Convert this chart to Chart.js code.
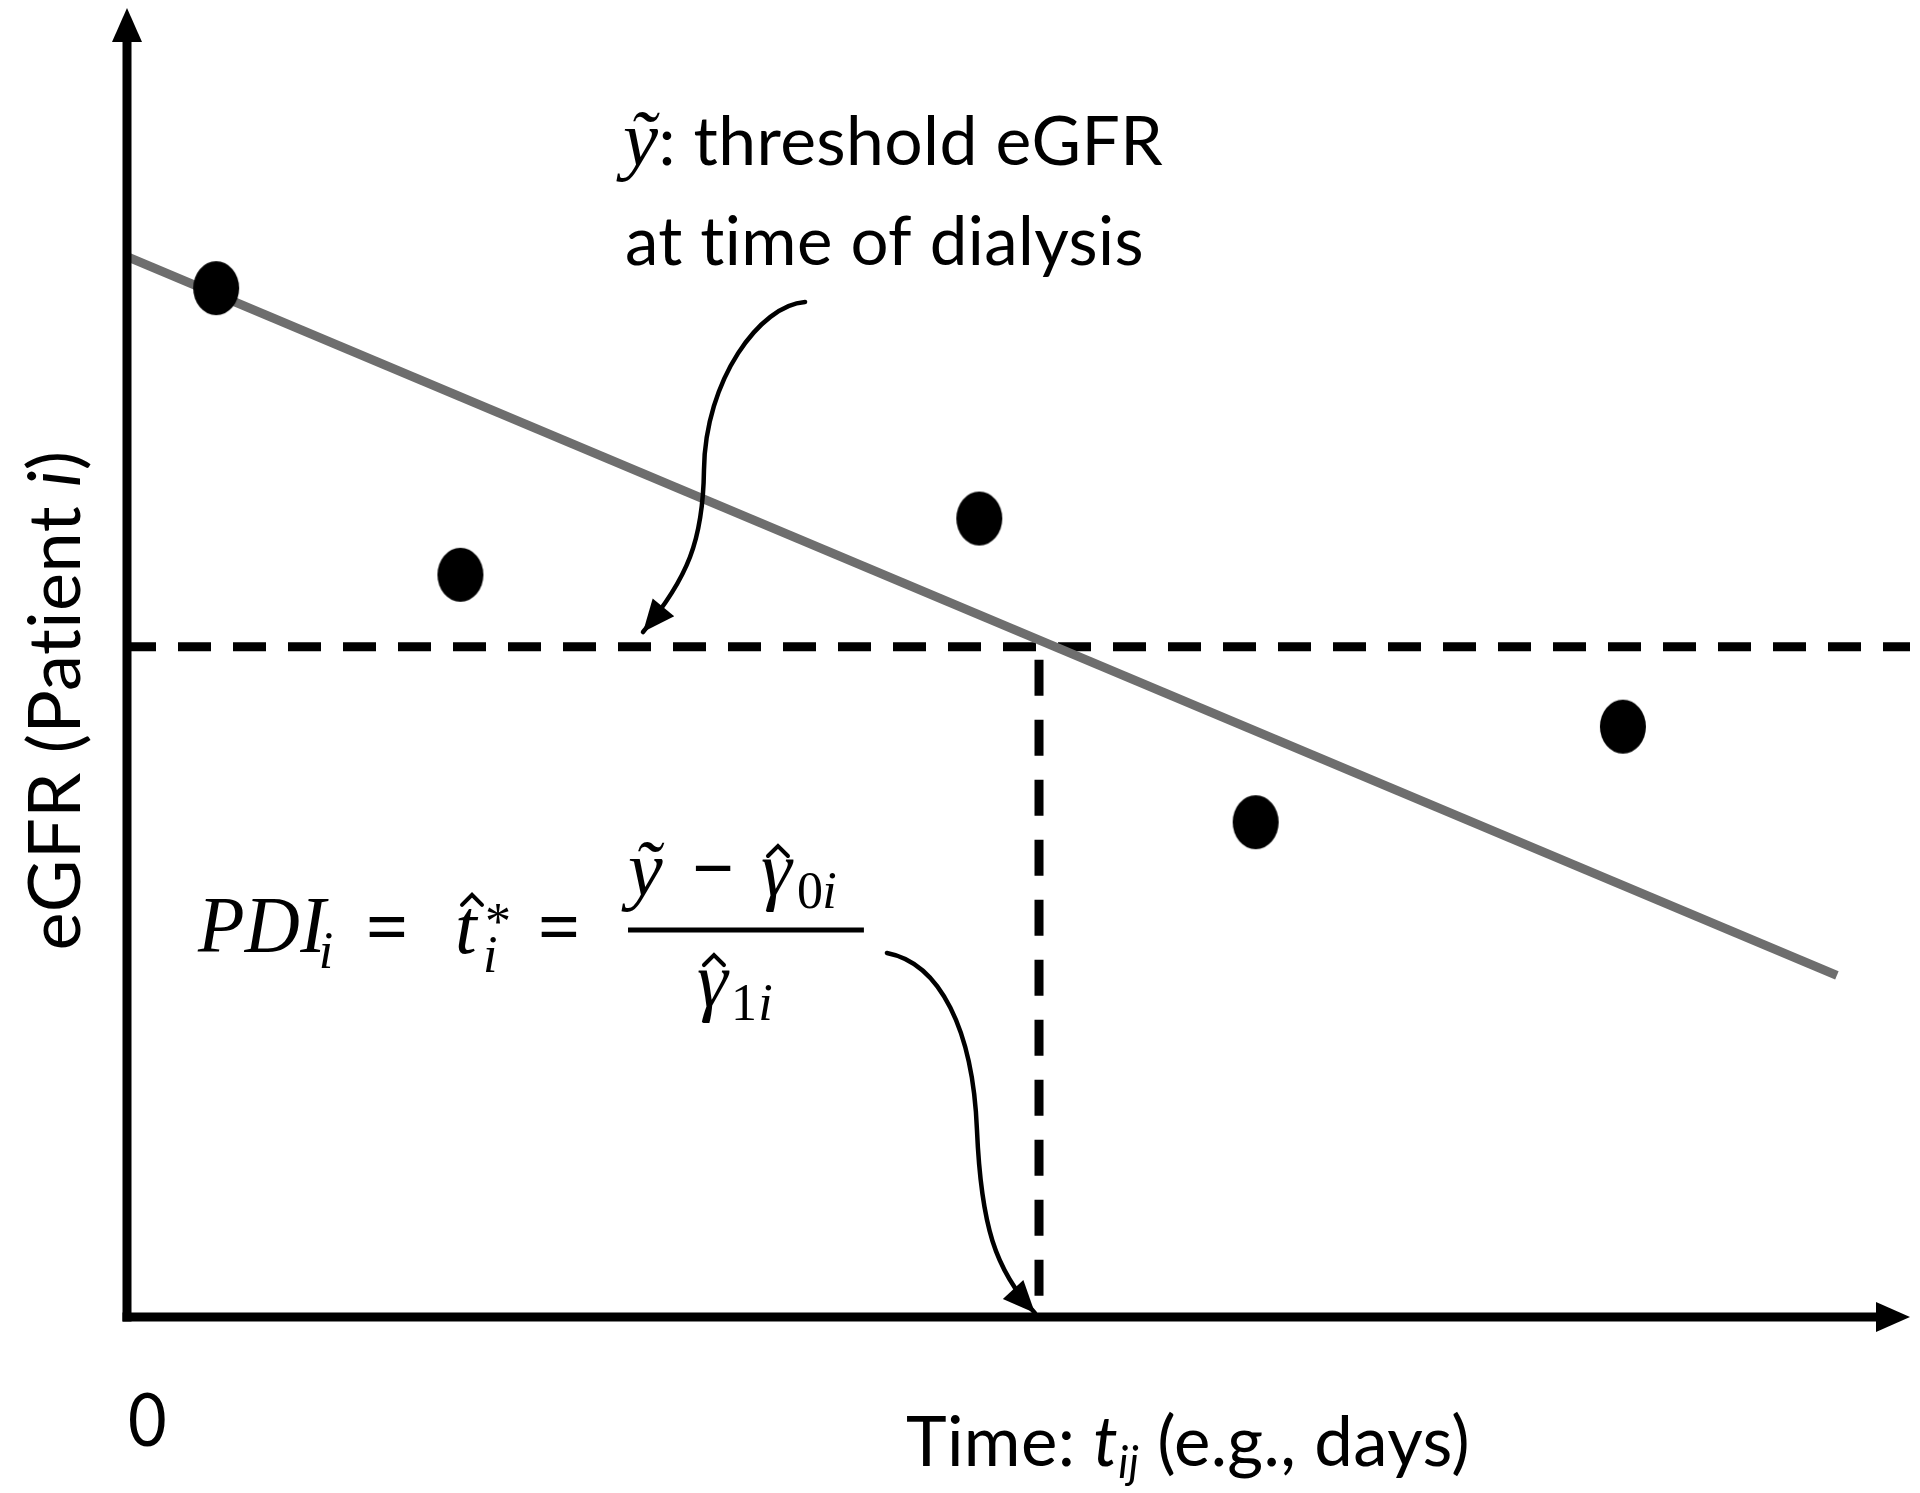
<!DOCTYPE html>
<html><head><meta charset="utf-8">
<script src="https://cdn.jsdelivr.net/npm/chart.js@4.4.1/dist/chart.umd.min.js"></script>
<style>html,body{margin:0;padding:0;background:#fff;}canvas{display:block;}</style>
</head><body>
<canvas id="c" width="1920" height="1493"></canvas>
<script>
// ---- data ----
const obsTime = [5.0, 18.7, 47.8, 63.3, 83.9];
const obsEGFR = [78.6, 56.7, 61.0, 37.8, 45.1];
const fitTime = [0, 95.9];
const fitEGFR = [81.0, 26.1];
const thresholdEGFR = 51.2;
const thresholdSpan = [0, 100];
const pdiTime = 51.15;
const xTickValues = [0];
const xTickLabels = ['0'];

// ---- datasets built from the arrays ----
const pts = obsTime.map((t, i) => ({x: t, y: obsEGFR[i]}));
const fit = fitTime.map((t, i) => ({x: t, y: fitEGFR[i]}));
const thr = thresholdSpan.map(t => ({x: t, y: thresholdEGFR}));
const pdi = [{x: pdiTime, y: thresholdEGFR}, {x: pdiTime, y: 0}];

// elliptical dot marker
const dot = document.createElement('canvas');
dot.width = 48; dot.height = 56;
(function(){ const d = dot.getContext('2d'); d.fillStyle = '#000'; d.beginPath(); d.ellipse(24, 28, 23, 27, 0, 0, Math.PI*2); d.fill(); })();

const SANS = '"Lato", "Open Sans", sans-serif';
const SERIF = '"Liberation Serif", "DejaVu Serif", serif';

// ---- annotation layout (data units) ----
const arrows = [
  {start: [38.03, 77.54], segs: [[[35.50, 77.31], [32.42, 71.58], [32.36, 64.71]], [[32.31, 59.36], [31.46, 56.46], [28.94, 52.33]]]},
  {start: [42.62, 27.81], segs: [[[45.60, 27.04], [47.45, 21.93], [47.67, 14.29]], [[47.90, 7.03], [48.68, 3.59], [50.92, 0.31]]]}
];

const formulaTokens = [
  {t: 'PDI', x: 3.98, y: 27.88, font: 'italic 80px ' + SERIF, w: 128},
  {t: 'i', x: 10.75, y: 26.66, font: 'italic 52px ' + SERIF},
  {t: '=', x: 13.40, y: 27.88, font: 'bold 74px ' + SERIF},
  {t: 't', x: 18.40, y: 27.81, font: 'italic 78px ' + SERIF, hat: [19.35, 31.86]},
  {t: '*', x: 20.08, y: 28.88, font: '52px ' + SERIF},
  {t: 'i', x: 19.97, y: 26.36, font: 'italic 52px ' + SERIF},
  {t: '=', x: 23.05, y: 27.88, font: 'bold 74px ' + SERIF},
  {t: 'ỹ', x: 28.10, y: 32.24, font: 'italic 78px ' + SERIF},
  {t: '−', x: 31.69, y: 32.40, font: 'bold 74px ' + SERIF},
  {t: 'γ', x: 35.56, y: 32.24, font: 'italic 78px ' + SERIF, hat: [36.51, 35.60]},
  {t: '0', x: 37.58, y: 31.24, font: '52px ' + SERIF},
  {t: 'i', x: 39.00, y: 31.24, font: 'italic 52px ' + SERIF},
  {t: 'γ', x: 31.97, y: 23.76, font: 'italic 78px ' + SERIF, hat: [32.92, 27.27]},
  {t: '1', x: 33.88, y: 22.69, font: '52px ' + SERIF},
  {t: 'i', x: 35.40, y: 22.69, font: 'italic 52px ' + SERIF}
];
const fractionBar = {x1: 28.10, x2: 41.33, y: 29.56};

function runsWidth(ctx, runs) {
  let w = 0;
  for (const r of runs) { ctx.font = r.font; w += ctx.measureText(r.t).width; }
  return w;
}
function drawRuns(ctx, runs, x, y, targetW) {
  const w = runsWidth(ctx, runs);
  const sx = targetW ? targetW / w : 1;
  ctx.save(); ctx.translate(x, y); ctx.scale(sx, 1);
  let cx = 0;
  for (const r of runs) { ctx.font = r.font; ctx.fillText(r.t, cx, r.dy || 0); cx += ctx.measureText(r.t).width; }
  ctx.restore();
}
function hat(ctx, cx, cy) {
  ctx.save(); ctx.lineWidth = 4; ctx.lineJoin = 'miter'; ctx.strokeStyle = '#000';
  ctx.beginPath(); ctx.moveTo(cx - 10, cy + 5); ctx.lineTo(cx, cy - 5); ctx.lineTo(cx + 10, cy + 5); ctx.stroke();
  ctx.restore();
}

const annot = {
  id: 'annot',
  afterDraw(chart) {
    const ctx = chart.ctx, xs = chart.scales.x, ys = chart.scales.y;
    const P = (x, y) => [xs.getPixelForValue(x), ys.getPixelForValue(y)];
    const x0 = xs.getPixelForValue(0), y0 = ys.getPixelForValue(0);
    const xEnd = xs.getPixelForValue(xs.max), yEnd = ys.getPixelForValue(ys.max);
    ctx.save();
    if ('letterSpacing' in ctx) ctx.letterSpacing = '0.4px';
    ctx.fillStyle = '#000'; ctx.strokeStyle = '#000';
    // axes with arrowheads
    ctx.lineWidth = 9; ctx.lineCap = 'butt';
    ctx.beginPath(); ctx.moveTo(x0, y0 + 4.5); ctx.lineTo(x0, yEnd + 30); ctx.stroke();
    ctx.beginPath(); ctx.moveTo(x0, yEnd); ctx.lineTo(x0 - 15, yEnd + 34); ctx.lineTo(x0 + 15, yEnd + 34); ctx.closePath(); ctx.fill();
    ctx.beginPath(); ctx.moveTo(x0 - 4.5, y0); ctx.lineTo(xEnd - 30, y0); ctx.stroke();
    ctx.beginPath(); ctx.moveTo(xEnd, y0); ctx.lineTo(xEnd - 34, y0 - 15); ctx.lineTo(xEnd - 34, y0 + 15); ctx.closePath(); ctx.fill();

    // curved arrows
    for (const a of arrows) {
      ctx.lineWidth = 4.5; ctx.lineCap = 'round';
      const s = P(a.start[0], a.start[1]);
      ctx.beginPath(); ctx.moveTo(s[0], s[1]);
      let lastCp, tip;
      for (const sg of a.segs) {
        const c1 = P(sg[0][0], sg[0][1]), c2 = P(sg[1][0], sg[1][1]), e = P(sg[2][0], sg[2][1]);
        ctx.bezierCurveTo(c1[0], c1[1], c2[0], c2[1], e[0], e[1]);
        lastCp = c2; tip = e;
      }
      ctx.stroke();
      const ang = Math.atan2(tip[1] - lastCp[1], tip[0] - lastCp[0]);
      const L = 32, W = 14;
      const bx = tip[0] - L * Math.cos(ang), by = tip[1] - L * Math.sin(ang);
      ctx.beginPath(); ctx.moveTo(tip[0], tip[1]);
      ctx.lineTo(bx + W * Math.sin(ang), by - W * Math.cos(ang));
      ctx.lineTo(bx - W * Math.sin(ang), by + W * Math.cos(ang));
      ctx.closePath(); ctx.fill();
    }

    ctx.textBaseline = 'alphabetic'; ctx.textAlign = 'left';
    // threshold label
    let p = P(27.82, 88.01);
    drawRuns(ctx, [{t: 'ỹ', font: 'italic 78px ' + SERIF}, {t: ': threshold eGFR', font: '67px ' + SANS}], p[0], p[1], 540);
    p = P(27.93, 80.37);
    drawRuns(ctx, [{t: 'at time of dialysis', font: '67px ' + SANS}], p[0], p[1], 519);

    // formula
    for (const tk of formulaTokens) {
      const q = P(tk.x, tk.y);
      ctx.font = tk.font;
      if (tk.w) {
        const mw = ctx.measureText(tk.t).width;
        ctx.save(); ctx.translate(q[0], q[1]); ctx.scale(tk.w / mw, 1); ctx.fillText(tk.t, 0, 0); ctx.restore();
      } else {
        ctx.fillText(tk.t, q[0], q[1]);
      }
      if (tk.hat) { const h = P(tk.hat[0], tk.hat[1]); hat(ctx, h[0], h[1]); }
    }
    const b1 = P(fractionBar.x1, fractionBar.y), b2 = P(fractionBar.x2, fractionBar.y);
    ctx.lineWidth = 5; ctx.lineCap = 'butt';
    ctx.beginPath(); ctx.moveTo(b1[0], b1[1]); ctx.lineTo(b2[0], b2[1]); ctx.stroke();

    // x tick label(s)
    xTickValues.forEach((v, i) => {
      ctx.font = '74px ' + SANS;
      ctx.save(); ctx.translate(xs.getPixelForValue(v) + 1, y0 + 129); ctx.scale(0.9, 1);
      ctx.fillText(xTickLabels[i], 0, 0); ctx.restore();
    });

    // x-axis title
    p = P(43.69, 0);
    drawRuns(ctx, [
      {t: 'Time: ', font: '69px ' + SANS},
      {t: 't', font: 'italic 69px ' + SANS},
      {t: 'ij', font: 'italic 44px ' + SANS, dy: 12},
      {t: ' (e.g., days)', font: '69px ' + SANS}
    ], p[0], y0 + 149, 564);

    // y-axis title (rotated)
    p = P(0, 47.1);
    ctx.save();
    ctx.translate(x0 - 47, p[1]);
    ctx.rotate(-Math.PI / 2);
    drawRuns(ctx, [
      {t: 'eGFR (Patient ', font: '71px ' + SANS},
      {t: 'i', font: 'italic 71px ' + SANS},
      {t: ')', font: '71px ' + SANS}
    ], -250, 0, 500);
    ctx.restore();

    ctx.restore();
  }
};

new Chart(document.getElementById('c').getContext('2d'), {
  type: 'scatter',
  data: {
    datasets: [
      {label: 'Observed eGFR', data: pts, pointStyle: dot, pointRadius: 24, pointHoverRadius: 24, showLine: false, order: 0, clip: false},
      {label: 'Fitted trajectory', type: 'line', data: fit, borderColor: '#6e6e6e', borderWidth: 9, borderCapStyle: 'butt', pointRadius: 0, fill: false, order: 1, clip: false},
      {label: 'Threshold eGFR', type: 'line', data: thr, borderColor: '#000', borderWidth: 9, borderDash: [33, 22], borderDashOffset: 4, pointRadius: 0, fill: false, order: 2, clip: false},
      {label: 'PDI', type: 'line', data: pdi, borderColor: '#000', borderWidth: 9, borderDash: [36, 24], borderDashOffset: 47, pointRadius: 0, fill: false, order: 3, clip: false}
    ]
  },
  options: {
    responsive: false,
    animation: false,
    devicePixelRatio: 1,
    events: [],
    layout: {autoPadding: false, padding: {left: 127, right: 10, top: 8, bottom: 176}},
    plugins: {legend: {display: false}, tooltip: {enabled: false}},
    scales: {
      x: {type: 'linear', min: 0, max: 100, display: false},
      y: {type: 'linear', min: 0, max: 100, display: false}
    }
  },
  plugins: [annot]
});
</script>
</body></html>
